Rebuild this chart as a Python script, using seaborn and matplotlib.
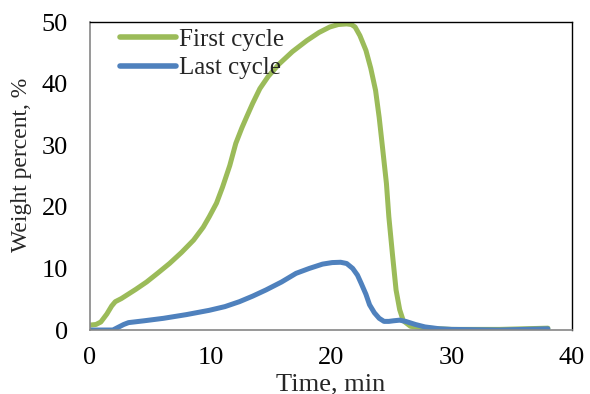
import matplotlib
matplotlib.use("Agg")
import matplotlib.pyplot as plt
import seaborn as sns
import pandas as pd

first_x = [0, 0.5, 0.9, 1.4, 1.8, 2.1, 2.6, 3.0, 3.8, 4.7, 5.6, 6.6, 7.6, 8.6, 9.4, 9.9, 10.5,
           11.0, 11.6, 12.1, 12.6, 13.0, 13.5, 14.1, 14.8, 15.7, 16.8, 18.0, 19.0, 19.9, 20.6,
           21.3, 21.7, 22.0, 22.4, 22.9, 23.3, 23.7, 24.0, 24.3, 24.6, 24.8, 25.1, 25.4, 25.7,
           26.0, 26.6, 28.0, 30.0, 34.0, 36.0, 38.0]
first_y = [0.8, 0.9, 1.3, 2.6, 3.9, 4.6, 5.1, 5.6, 6.6, 7.8, 9.2, 10.8, 12.6, 14.6, 16.7, 18.4, 20.6,
           23.2, 26.7, 30.3, 32.8, 34.6, 36.8, 39.2, 41.2, 43.2, 45.2, 47.0, 48.3, 49.2, 49.6,
           49.7, 49.6, 49.2, 47.8, 45.4, 42.5, 38.9, 34.5, 29.2, 23.8, 18.4, 12.3, 6.5, 3.3,
           1.5, 0.6, 0.3, 0.1, 0.1, 0.2, 0.3]

last_x = [0, 1.2, 1.9, 2.3, 2.8, 3.2, 4.5, 6.1, 8.0, 9.9, 11.2, 12.4, 13.5, 14.6, 15.9, 17.1,
          18.2, 19.3, 20.1, 20.8, 21.3, 21.8, 22.2, 22.5, 22.9, 23.2, 23.6, 24.0, 24.4, 24.8,
          25.2, 25.7, 26.2, 27.0, 27.8, 29.0, 30.0, 34.0, 36.0, 38.0]
last_y = [0, 0, 0, 0.4, 0.9, 1.2, 1.5, 1.9, 2.5, 3.2, 3.8, 4.6, 5.5, 6.5, 7.8, 9.2,
          10.0, 10.7, 10.95, 11.0, 10.8, 10.0, 8.9, 7.6, 5.8, 4.1, 2.8, 1.9, 1.4, 1.4,
          1.5, 1.6, 1.4, 0.9, 0.5, 0.2, 0.1, 0.0, 0.1, 0.2]

x_ticks = [0, 10, 20, 30, 40]
y_ticks = [0, 10, 20, 30, 40, 50]

df = pd.concat([
    pd.DataFrame({"Time": first_x, "Weight": first_y, "Series": "First cycle"}),
    pd.DataFrame({"Time": last_x, "Weight": last_y, "Series": "Last cycle"}),
], ignore_index=True)

sns.set_theme(style="white")
plt.rcParams["font.family"] = ["Liberation Serif", "DejaVu Serif"]

fig = plt.figure(figsize=(5.9, 3.94), dpi=100)
ax = fig.add_axes([0.1525, 0.1624, 0.817, 0.7816])

sns.lineplot(data=df, x="Time", y="Weight", hue="Series",
             palette={"First cycle": "#9BBB59", "Last cycle": "#4F81BD"},
             linewidth=3.6, estimator=None, sort=False, ax=ax)
for ln in ax.lines:
    ln.set_solid_capstyle("round")
    ln.set_solid_joinstyle("round")

ax.set_xlim(0, 40)
ax.set_ylim(0, 50)
ax.set_xticks(x_ticks)
ax.set_yticks(y_ticks)
ax.tick_params(axis="both", labelsize=19, colors="black", length=5, width=1.2,
               direction="out", color="#868686")
ax.tick_params(axis="x", pad=7)
ax.tick_params(axis="y", pad=11)
for s in ["left", "bottom"]:
    ax.spines[s].set_color("#868686")
    ax.spines[s].set_linewidth(1.2)
for s in ["top", "right"]:
    ax.spines[s].set_color("black")
    ax.spines[s].set_linewidth(1.0)

ax.set_xlabel("Time, min", fontsize=19, va="top")
ax.xaxis.set_label_coords(0.5, -0.14)
ax.set_ylabel("Weight percent, %", fontsize=17, va="center", ha="center")
ax.yaxis.set_label_coords(-0.142, 0.537)

leg = ax.legend(loc="upper left", bbox_to_anchor=(0.062, 0.98), frameon=False, fontsize=18,
                handlelength=2.25, handletextpad=0.1, labelspacing=0.25, borderaxespad=0,
                borderpad=0)
for h in leg.get_lines():
    h.set_linewidth(4.0)
    h.set_solid_capstyle("round")

fig.savefig("out.png", dpi=100)
